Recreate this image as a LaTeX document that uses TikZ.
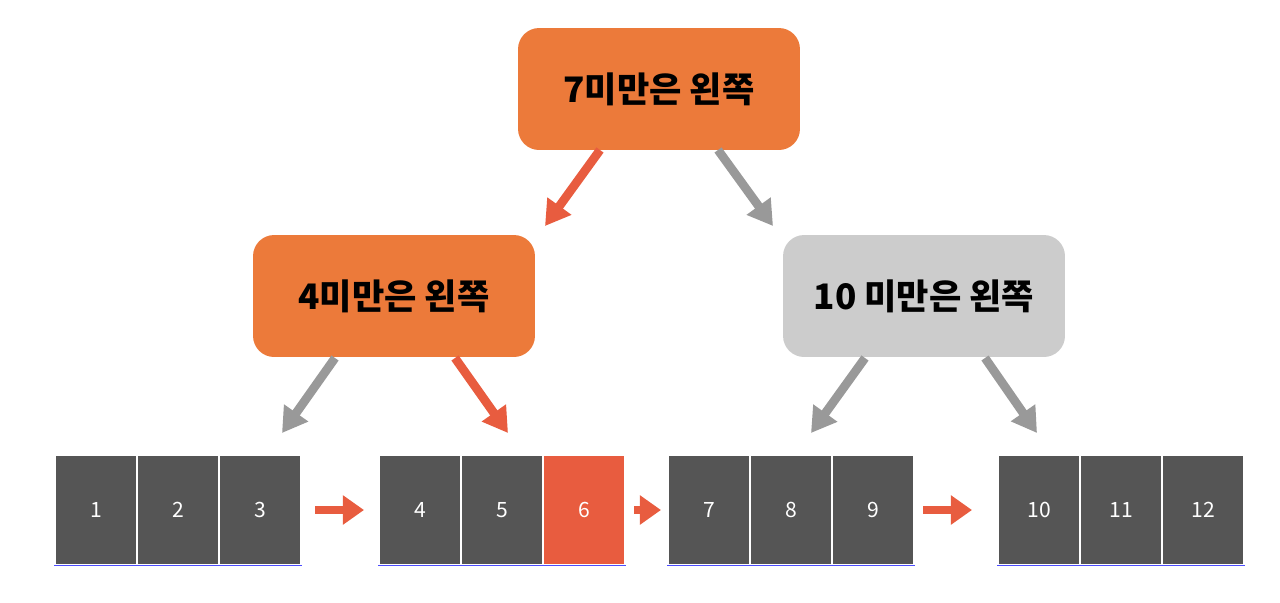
\documentclass[tikz,border=0pt]{standalone}
\usepackage{fontspec}
\newfontfamily\kr{Noto Sans CJK KR}
\usetikzlibrary{arrows.meta}
\definecolor{boxorange}{HTML}{EC7A3A}
\definecolor{boxgrey}{HTML}{CCCCCC}
\definecolor{cellgrey}{HTML}{555555}
\definecolor{hitred}{HTML}{E85C3F}
\definecolor{arrgrey}{HTML}{999999}
\begin{document}
\begin{tikzpicture}
				[x=0.02cm,y=-0.02cm,
				every node/.style={font=\kr},
				rule/.style={rounded corners=12pt, minimum width=5.64cm,
				minimum height=2.44cm, font=\kr\bfseries\fontsize{20}{24}\selectfont},
				cell/.style={fill=cellgrey, draw=white, line width=0.6pt,
				minimum width=1.64cm, minimum height=2.2cm,
				text=white, font=\kr\fontsize{12}{14}\selectfont},
				link/.style={line width=5pt, -{Triangle[length=14pt,width=16pt]}}]
				\useasboundingbox (0,0) rectangle (1280,602);
				\node[rule, fill=boxorange] (r7) at (659,89)  {7미만은 왼쪽};
				\node[rule, fill=boxorange] (r4) at (394,296) {4미만은 왼쪽};
				\node[rule, fill=boxgrey] (r10) at (924,296) {10 미만은 왼쪽};

				% leaf cells
				\foreach \n/\x in {1/96,2/178,3/260,4/420,5/502,6/584,7/709,8/791,9/873,10/1039,11/1121,12/1203}
				\node[cell] (c\n) at (\x,510) {\n};
				\node[cell, fill=hitred] at (c6) {6};
				\foreach \a/\b in {c1/c3,c4/c6,c7/c9,c10/c12}
				\draw[blue!70, line width=0.6pt] (\a.south west) -- (\b.south east);

				\coordinate (t1) at (545,226);
				\coordinate (t2) at (773,226);
				\coordinate (t3) at (282,433);
				\coordinate (t4) at (508,433);
				\coordinate (t5) at (811,433);
				\coordinate (t6) at (1037,433);
				\draw[link, hitred] (600,150) -- (t1);
				\draw[link, arrgrey] (718,150) -- (t2);
				\draw[link, arrgrey] (335,358) -- (t3);
				\draw[link, hitred] (455,358) -- (t4);
				\draw[link, arrgrey] (865,358) -- (t5);
				\draw[link, arrgrey] (985,358) -- (t6);

				\coordinate (h1) at (315,510);
				\coordinate (h2) at (364,510);
				\coordinate (h3) at (634,510);
				\coordinate (h4) at (661,510);
				\coordinate (h5) at (923,510);
				\coordinate (h6) at (972,510);
				\foreach \from/\to in {h1/h2,h3/h4,h5/h6}
				\draw[link, hitred, -{Triangle[length=12pt,width=16pt]}] (\from) -- (\to);
			\end{tikzpicture}
\end{document}
